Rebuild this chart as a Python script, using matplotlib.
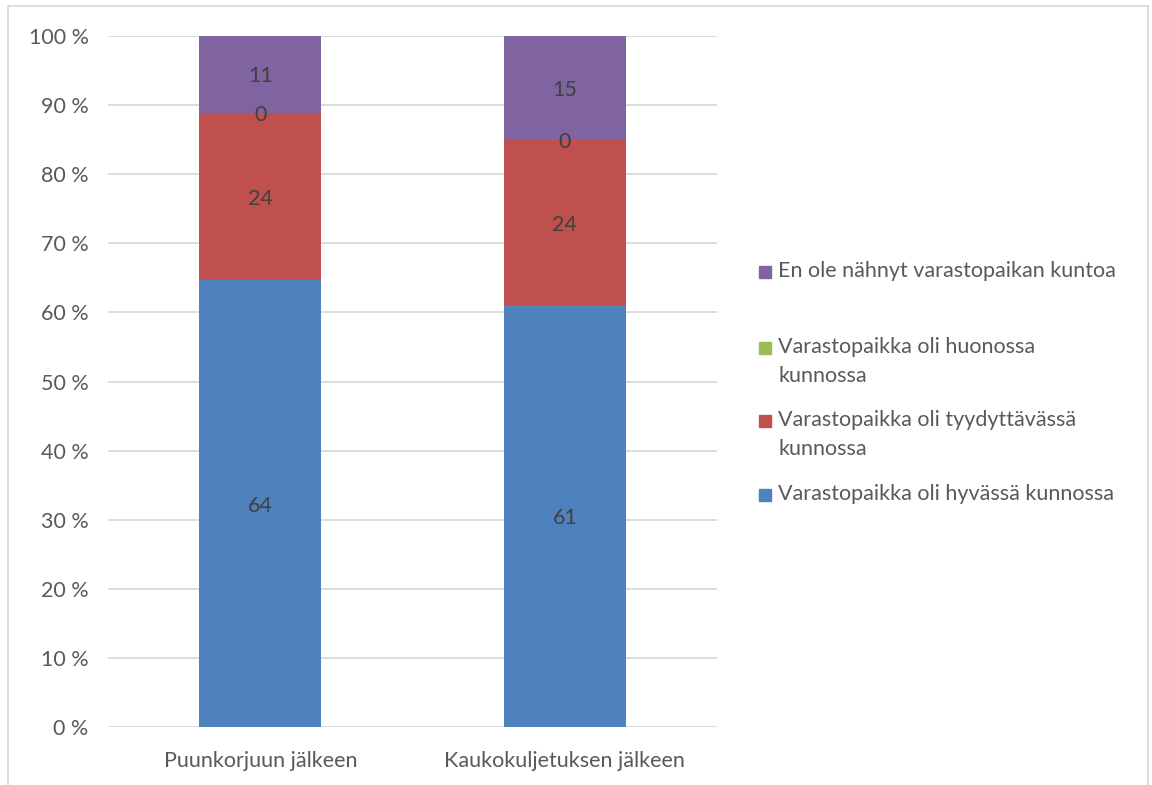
import matplotlib.pyplot as plt
from matplotlib.patches import Rectangle

# data (counts, shown as 100 % stacked bars)
categories = ['Puunkorjuun jälkeen', 'Kaukokuljetuksen jälkeen']
series_names = ['Varastopaikka oli hyvässä kunnossa',
                'Varastopaikka oli tyydyttävässä\nkunnossa',
                'Varastopaikka oli huonossa\nkunnossa',
                'En ole nähnyt varastopaikan kuntoa']
hyva = [64, 61]
tyydyttava = [24, 24]
huono = [0, 0]
ei_nahnyt = [11, 15]
colors = ['#4F81BD', '#C0504D', '#9BBB59', '#8064A2']
yticks = [0, 10, 20, 30, 40, 50, 60, 70, 80, 90, 100]

plt.rcParams['font.family'] = ['Lato', 'DejaVu Sans']
FS = 15.5

fig = plt.figure(figsize=(11.52, 7.85), dpi=100)
ax = fig.add_axes([108 / 1152, 58 / 785, 609 / 1152, 691 / 785])

series = [hyva, tyydyttava, huono, ei_nahnyt]
totals = [sum(s[i] for s in series) for i in range(len(categories))]
x = list(range(len(categories)))
bottoms = [0.0] * len(categories)
for vals, col in zip(series, colors):
    pct = [v / t * 100 for v, t in zip(vals, totals)]
    bars = ax.bar(x, pct, width=0.4, bottom=bottoms, color=col, zorder=3)
    for i, b in enumerate(bars):
        ax.text(b.get_x() + b.get_width() / 2, bottoms[i] + pct[i] / 2,
                str(vals[i]), ha='center', va='center_baseline', fontsize=FS,
                color='#404040', zorder=4)
    bottoms = [b0 + p for b0, p in zip(bottoms, pct)]

ax.set_xlim(-0.5, 1.5)
ax.set_ylim(0, 100)
ax.set_yticks(yticks)
ax.set_yticklabels([f'{v} %' for v in yticks])
ax.set_xticks(x)
ax.set_xticklabels(categories)
ax.grid(axis='y', color='#D9D9D9', linewidth=1.3, zorder=0)
for s in ax.spines.values():
    s.set_visible(False)
ax.tick_params(axis='both', length=0, labelsize=FS, labelcolor='#595959')
ax.tick_params(axis='y', pad=14)
ax.tick_params(axis='x', pad=17)

# legend drawn by hand so markers line up with the first line of each label
legend_y = [272, 348, 421, 495]
for name, col, yy in zip(series_names[::-1], colors[::-1], legend_y):
    fig.patches.append(Rectangle((759 / 1152, 1 - (yy + 6) / 785), 12 / 1152, 12 / 785,
                                 transform=fig.transFigure, color=col))
    fig.text(778 / 1152, 1 - (yy - 11) / 785, name, ha='left', va='top',
             fontsize=FS, color='#595959', linespacing=1.57)

# light grey frame around the chart area
fig.patches.append(Rectangle((8 / 1152, -0.01), 1140 / 1152, 1 - 6 / 785 + 0.01,
                             transform=fig.transFigure, fill=False,
                             edgecolor='#D9D9D9', linewidth=1.3))

fig.savefig('out.png', dpi=100)
